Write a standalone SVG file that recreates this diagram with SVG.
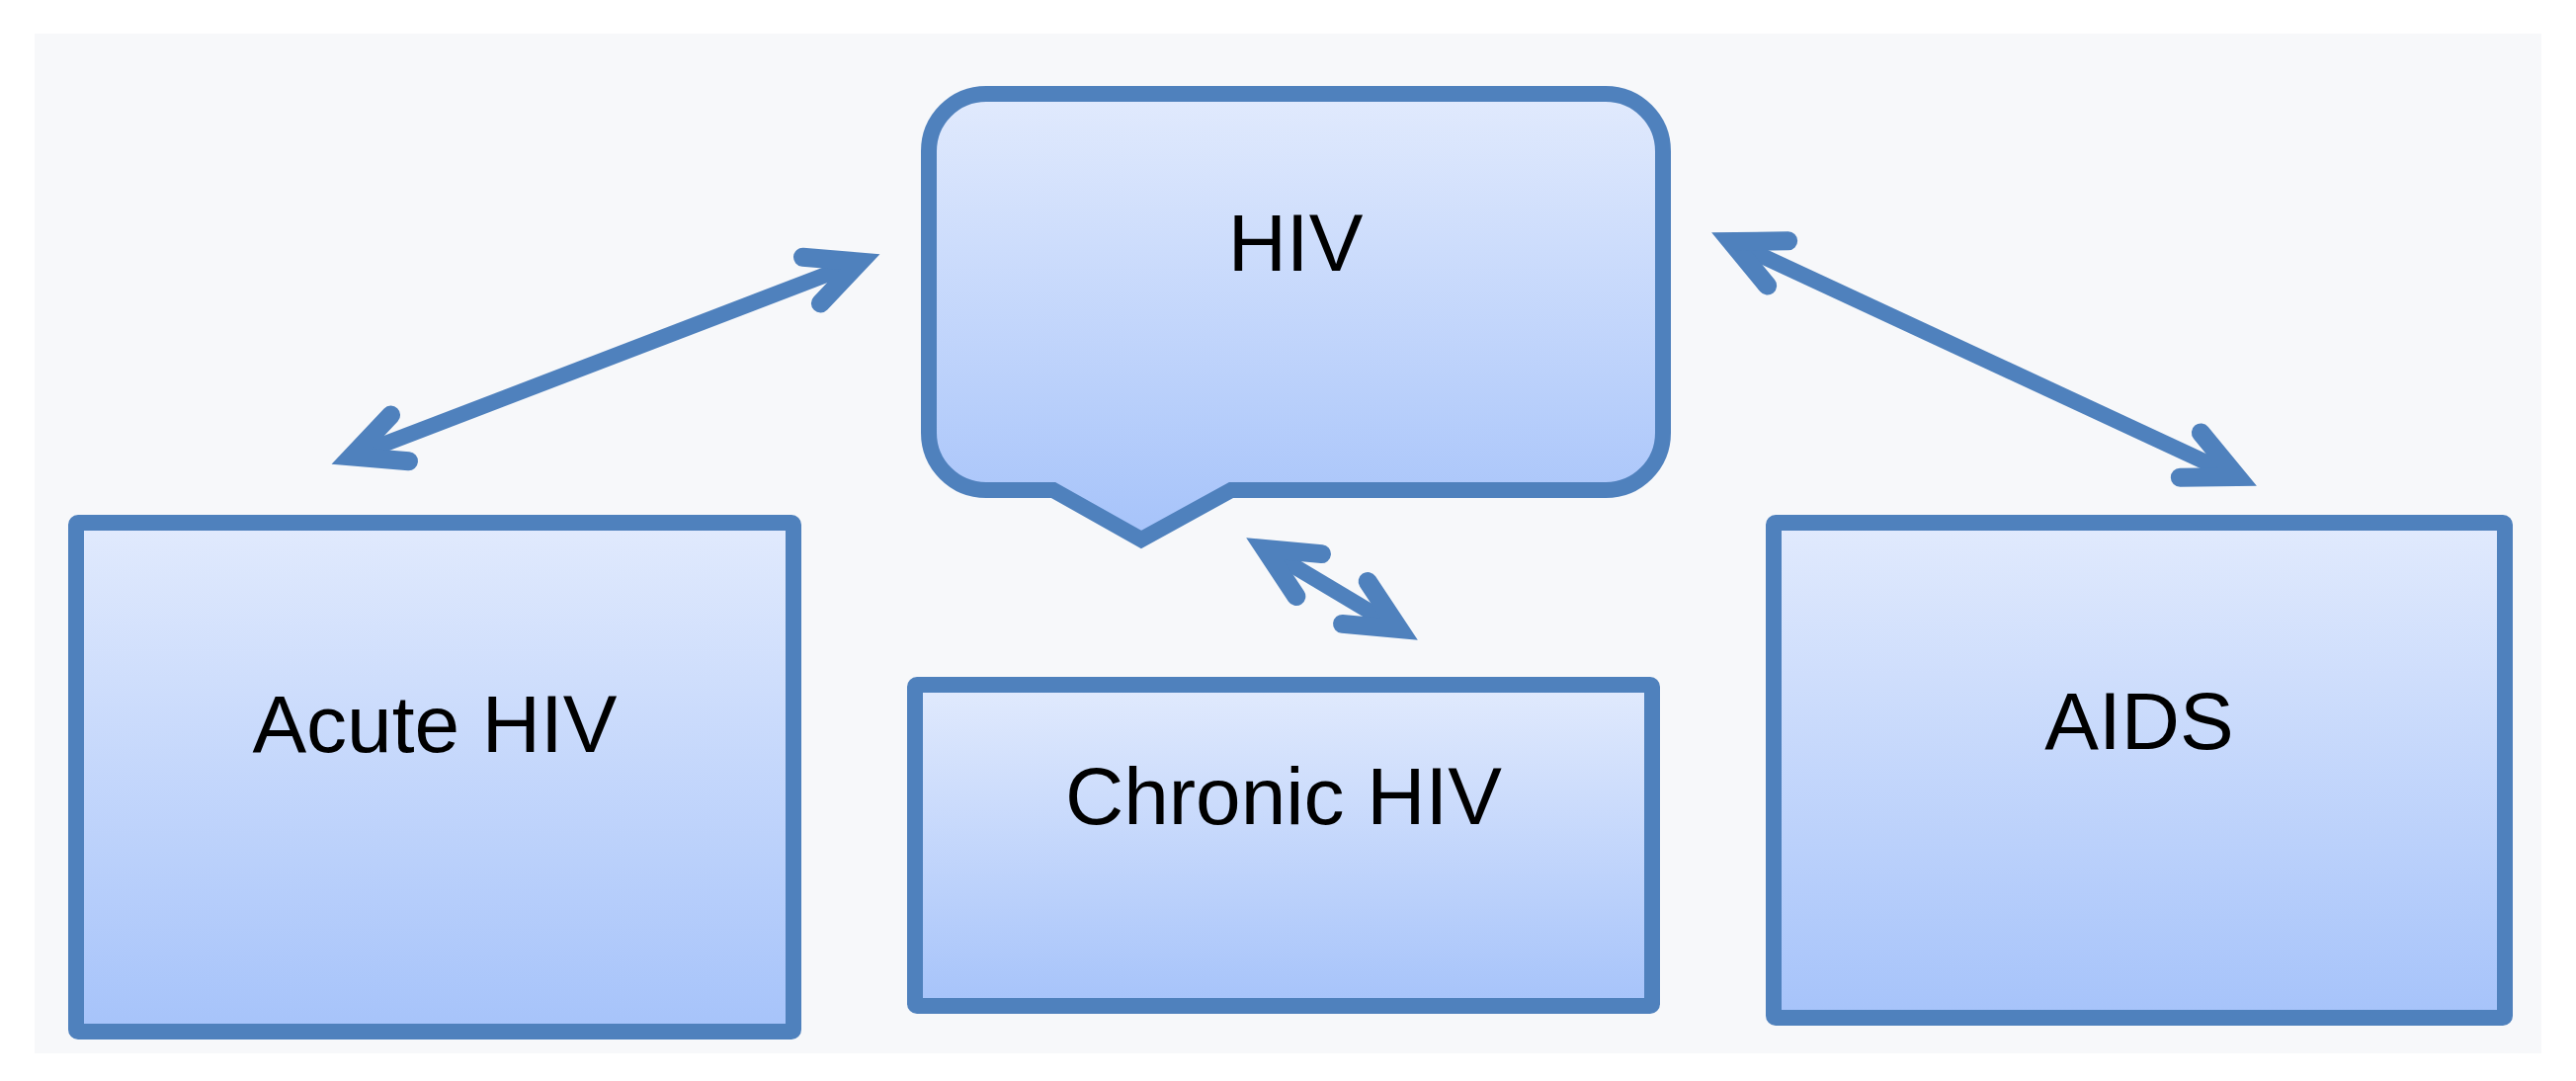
<svg xmlns="http://www.w3.org/2000/svg" width="2607" height="1094" viewBox="0 0 2607 1094">
<style>
.node{stroke:#4f81bd;stroke-width:16;fill:url(#g)}
.lbl{font-family:"Liberation Sans",Arial,sans-serif;font-size:82px;fill:#000;text-anchor:middle}
.conn{stroke:#4f81bd;stroke-width:16;fill:none;marker-start:url(#ah);marker-end:url(#ah)}
</style>
<defs>
<linearGradient id="g" x1="0" y1="0" x2="0" y2="1">
<stop offset="0" stop-color="#e1eafd"/>
<stop offset="1" stop-color="#a6c3fa"/>
</linearGradient>
<marker id="ah" markerUnits="userSpaceOnUse" orient="auto-start-reverse" refX="0" refY="0" markerWidth="10" markerHeight="10" overflow="visible">
<path d="M -52 -25 L 0 0 L -52 25" fill="none" stroke="#4f81bd" stroke-width="19" stroke-linejoin="miter" stroke-linecap="round"/>
</marker>
</defs>
<rect x="0" y="0" width="2607" height="1094" fill="#ffffff"/>
<rect x="35" y="34" width="2537" height="1032" fill="#f7f8fa"/>
<g id="connectors">
<line class="conn" x1="356" y1="462" x2="870" y2="265"/>
<line class="conn" x1="1752" y1="244.5" x2="2264" y2="482.5"/>
<line class="conn" x1="1280" y1="555.4" x2="1416" y2="636.6"/>
</g>
<g id="hiv">
<path class="node" stroke-linejoin="miter" d="M 998 95 H 1625 A 58 58 0 0 1 1683 153 V 438 A 58 58 0 0 1 1625 496 H 1246 L 1155 546 L 1066 496 H 998 A 58 58 0 0 1 940 438 V 153 A 58 58 0 0 1 998 95 Z"/>
<text class="lbl" x="1311" y="274">HIV</text>
</g>
<g id="acute">
<rect class="node" x="77" y="529" width="726" height="515" rx="2"/>
<text class="lbl" x="440" y="761">Acute HIV</text>
</g>
<g id="chronic">
<rect class="node" x="926" y="693" width="746" height="325" rx="2"/>
<text class="lbl" x="1299" y="834">Chronic HIV</text>
</g>
<g id="aids">
<rect class="node" x="1795" y="529" width="740" height="501" rx="2"/>
<text class="lbl" x="2165" y="758">AIDS</text>
</g>
</svg>
